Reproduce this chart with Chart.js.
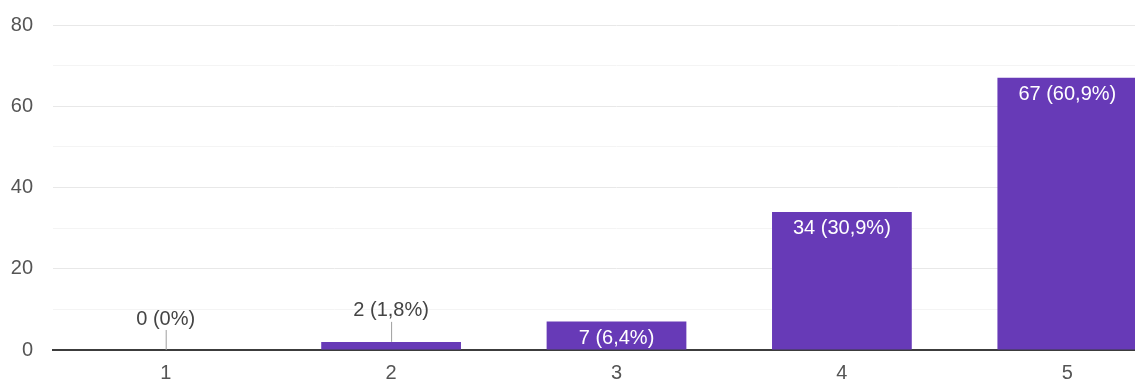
<!DOCTYPE html>
<html lang="en">
<head>
    <meta charset="UTF-8">
    <title>Responses</title>
    <style>
        body, html {
            margin: 0;
            padding: 0;
            background: #fff;
            overflow: hidden;
        }
        .chart-box {
            width: 1180px;
            height: 382px;
        }
    </style>
</head>
<body>
    <div class="chart-box">
        <canvas id="answers-chart"></canvas>
    </div>

    <script src="https://cdn.jsdelivr.net/npm/chart.js"></script>
    <script>
        // data
        const categories = ['1', '2', '3', '4', '5'];
        const counts = [0, 2, 7, 34, 67];
        const percentLabels = ['0%', '1,8%', '6,4%', '30,9%', '60,9%'];
        const yTickLabels = [0, 20, 40, 60, 80];

        const barColor = '#673ab7';
        const fontFamily = '"Liberation Sans", Arial, sans-serif';

        // value labels: inside the bar when there is room, otherwise above with a small leader line
        const valueLabels = {
            id: 'valueLabels',
            afterDatasetsDraw(chart) {
                const ctx = chart.ctx;
                const meta = chart.getDatasetMeta(0);
                ctx.save();
                ctx.font = '20px ' + fontFamily;
                ctx.textAlign = 'center';
                ctx.textBaseline = 'middle';
                meta.data.forEach((bar, i) => {
                    const text = counts[i] + ' (' + percentLabels[i] + ')';
                    const h = bar.base - bar.y;
                    if (h >= 24) {
                        ctx.fillStyle = '#ffffff';
                        ctx.fillText(text, bar.x, bar.y + 17);
                    } else {
                        ctx.strokeStyle = '#9e9e9e';
                        ctx.lineWidth = 1;
                        ctx.beginPath();
                        ctx.moveTo(bar.x + 0.5, bar.y - 20);
                        ctx.lineTo(bar.x + 0.5, bar.y);
                        ctx.stroke();
                        ctx.fillStyle = '#444444';
                        ctx.fillText(text, bar.x, bar.y - 31);
                    }
                });
                ctx.restore();
            }
        };

        const ctx = document.getElementById('answers-chart').getContext('2d');
        new Chart(ctx, {
            type: 'bar',
            data: {
                labels: categories,
                datasets: [{
                    data: counts,
                    backgroundColor: barColor,
                    borderWidth: 0,
                    barPercentage: 0.62,
                    categoryPercentage: 1.0
                }]
            },
            options: {
                responsive: true,
                maintainAspectRatio: false,
                animation: false,
                layout: { padding: { top: 25, right: 0, left: 0, bottom: 0 } },
                plugins: {
                    legend: { display: false },
                    tooltip: { enabled: false }
                },
                scales: {
                    x: {
                        grid: { display: false, drawTicks: false },
                        border: { display: true, color: '#3c3c3c', width: 2 },
                        ticks: {
                            color: '#555555',
                            padding: 11,
                            font: { family: fontFamily, size: 20 }
                        },
                        afterFit(scale) { scale.height = 32; }
                    },
                    y: {
                        min: 0,
                        max: 80,
                        grid: {
                            drawTicks: false,
                            color(c) {
                                const v = c.tick ? c.tick.value : 0;
                                if (v === 0) return 'rgba(0,0,0,0)';
                                return yTickLabels.includes(v) ? '#e8e8e8' : '#f4f4f4';
                            }
                        },
                        border: { display: false },
                        ticks: {
                            stepSize: 10,
                            padding: 20,
                            color: '#555555',
                            font: { family: fontFamily, size: 20 },
                            callback(value) {
                                return yTickLabels.includes(value) ? String(value) : '';
                            }
                        },
                        afterFit(scale) {
                            scale.width = 53;
                            scale.paddingTop = 0;
                            scale.paddingBottom = 0;
                        }
                    }
                }
            },
            plugins: [valueLabels]
        });
    </script>
</body>
</html>
